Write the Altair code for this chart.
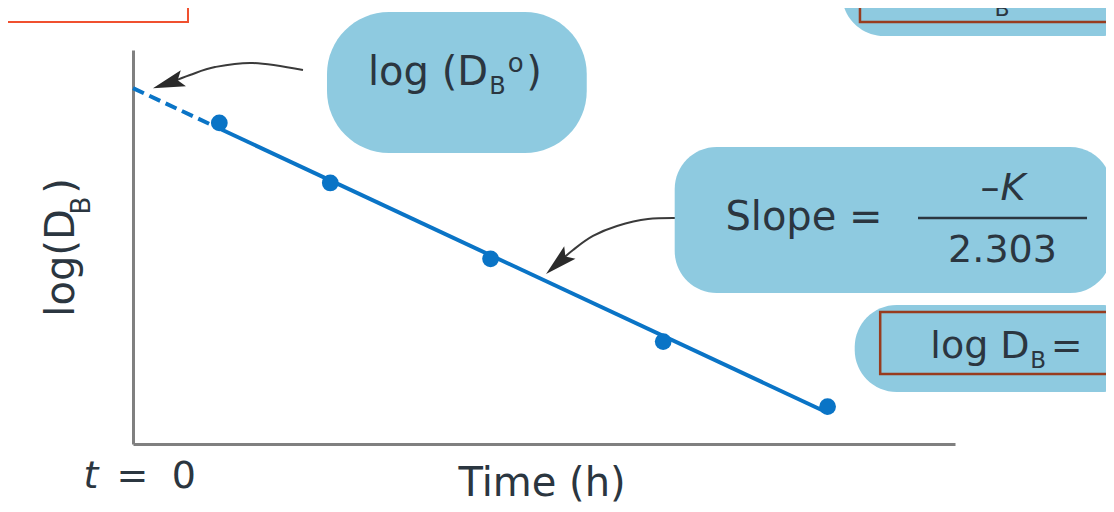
import altair as alt
import pandas as pd

# ---------------- data ----------------
time_h = [1.05, 2.40, 4.35, 6.45, 8.45]          # sampling times (h)
log_db = [3.26, 2.65, 1.88, 1.04, 0.38]          # log(D_B) measured

X_DOMAIN = [0, 10]
Y_DOMAIN = [0, 4]

BLUE = "#0a74c6"
BLOB = "#8ecae0"
INK = "#2b3640"
AXIS_GREY = "#808080"
BOX_BROWN = "#983c1f"
BOX_RED = "#f0502f"
FONT = "DejaVu Sans"

points = pd.DataFrame({"t": time_h, "logD": log_db})

xs = alt.Scale(domain=X_DOMAIN, nice=False, zero=False)
ys = alt.Scale(domain=Y_DOMAIN, nice=False, zero=False)
ax = alt.Axis(title=None, labels=False, ticks=False, grid=False,
              domain=True, domainColor=AXIS_GREY, domainWidth=3)


def X(f):
    return alt.X(f, type="quantitative", scale=xs, axis=ax)


def Y(f):
    return alt.Y(f, type="quantitative", scale=ys, axis=ax)


# ---------------- fitted line + points ----------------
fit_solid = alt.Chart(points).transform_regression(
    "t", "logD", extent=[time_h[0], time_h[-1]]
).mark_line(color=BLUE, strokeWidth=4).encode(x=X("t"), y=Y("logD"))

fit_dash = alt.Chart(points).transform_regression(
    "t", "logD", extent=[0, time_h[0]]
).mark_line(color=BLUE, strokeWidth=4, strokeDash=[12, 6]).encode(x=X("t"), y=Y("logD"))

dots = alt.Chart(points).mark_circle(size=280, color=BLUE, opacity=1).encode(
    x=X("t"), y=Y("logD"))

# ---------------- annotation layout (data units) ----------------
blob_big = pd.DataFrame([{"x": 2.36, "x2": 5.52, "y": 4.386, "y2": 2.954}])
blobs = pd.DataFrame([
    {"x": 6.59, "x2": 11.91, "y": 3.015, "y2": 1.533},
    {"x": 8.78, "x2": 12.3, "y": 1.411, "y2": 0.528},
    {"x": 8.625, "x2": 12.3, "y": 5.0, "y2": 4.142},
])
boxes_brown = pd.DataFrame([
    {"x": 9.09, "x2": 12.3, "y": 1.340, "y2": 0.711},
    {"x": 8.844, "x2": 12.3, "y": 5.2, "y2": 4.284},
])
boxes_red = pd.DataFrame([{"x": -1.8, "x2": 0.669, "y": 5.2, "y2": 4.284}])

arrow_curves = pd.DataFrame([
    {"g": 1, "i": 0, "x": 2.068, "y": 3.797},
    {"g": 1, "i": 1, "x": 1.460, "y": 3.868},
    {"g": 1, "i": 2, "x": 0.998, "y": 3.827},
    {"g": 1, "i": 3, "x": 0.693, "y": 3.746},
    {"g": 1, "i": 4, "x": 0.474, "y": 3.675},
    {"g": 2, "i": 0, "x": 6.679, "y": 2.294},
    {"g": 2, "i": 1, "x": 6.265, "y": 2.284},
    {"g": 2, "i": 2, "x": 5.888, "y": 2.213},
    {"g": 2, "i": 3, "x": 5.596, "y": 2.112},
    {"g": 2, "i": 4, "x": 5.353, "y": 1.970},
    {"g": 2, "i": 5, "x": 5.206, "y": 1.862},
])
arrow_heads = pd.DataFrame([
    {"x": 0.474, "y": 3.675, "a": 252},
    {"x": 5.206, "y": 1.862, "a": 228},
])
STEALTH = "M0,-1 L0.42,0.6 L0,0.3 L-0.42,0.6 Z"

frac_bar = pd.DataFrame([{"x": 9.55, "x2": 11.606, "y": 2.294}])

texts = pd.DataFrame([
    {"t": "log (D", "x": 3.589, "y": 3.645, "s": 40, "a": 0},
    {"t": "B", "x": 4.434, "y": 3.553, "s": 24, "a": 0},
    {"t": "o", "x": 4.655, "y": 3.777, "s": 26, "a": 0},
    {"t": ")", "x": 4.880, "y": 3.645, "s": 40, "a": 0},
    {"t": "Slope =", "x": 8.163, "y": 2.173, "s": 40, "a": 0},
    {"t": "\u2013", "x": 10.426, "y": 2.477, "s": 38, "a": 0},
    {"t": "2.303", "x": 10.578, "y": 1.848, "s": 38, "a": 0},
    {"t": "log D", "x": 10.304, "y": 0.873, "s": 38, "a": 0},
    {"t": "B", "x": 11.01, "y": 0.772, "s": 23, "a": 0},
    {"t": "=", "x": 11.36, "y": 0.873, "s": 38, "a": 0},
    {"t": "B", "x": 10.572, "y": 4.35, "s": 22, "a": 0},
    {"t": "Time (h)", "x": 4.976, "y": -0.528, "s": 40, "a": 0},
    {"t": "=", "x": -0.006, "y": -0.447, "s": 38, "a": 0},
    {"t": "0", "x": 0.62, "y": -0.447, "s": 38, "a": 0},
    {"t": "log(D", "x": -0.718, "y": 1.838, "s": 40, "a": 270},
    {"t": "B", "x": -0.523, "y": 2.421, "s": 26, "a": 270},
    {"t": ")", "x": -0.718, "y": 2.62, "s": 40, "a": 270},
])
texts_it = pd.DataFrame([
    {"t": "t", "x": -0.511, "y": -0.447, "s": 38, "a": 0},
    {"t": "K", "x": 10.706, "y": 2.477, "s": 38, "a": 0},
])

# ---------------- layers ----------------
curves = alt.Chart(arrow_curves).mark_line(
    color="#3a3a3a", strokeWidth=2, interpolate="cardinal"
).encode(x=X("x"), y=Y("y"), detail="g:N", order="i:Q")

heads = alt.Chart(arrow_heads).mark_point(
    shape=STEALTH, filled=True, size=1600, color="#2a2a2a", opacity=1, strokeWidth=0
).encode(x=X("x"), y=Y("y"), angle=alt.Angle("a:Q", scale=None))

blob1 = alt.Chart(blob_big).mark_rect(color=BLOB, cornerRadius=62).encode(
    x=X("x"), x2="x2", y=Y("y"), y2="y2")
blob_rest = alt.Chart(blobs).mark_rect(color=BLOB, cornerRadius=42).encode(
    x=X("x"), x2="x2", y=Y("y"), y2="y2")

box_b = alt.Chart(boxes_brown).mark_rect(
    fillOpacity=0, stroke=BOX_BROWN, strokeWidth=2.5).encode(
    x=X("x"), x2="x2", y=Y("y"), y2="y2")
box_r = alt.Chart(boxes_red).mark_rect(
    fillOpacity=0, stroke=BOX_RED, strokeWidth=2).encode(
    x=X("x"), x2="x2", y=Y("y"), y2="y2")

bar = alt.Chart(frac_bar).mark_rule(color=INK, strokeWidth=2.5).encode(
    x=X("x"), x2="x2", y=Y("y"))

txt = alt.Chart(texts).mark_text(
    align="center", baseline="alphabetic", font=FONT, color=INK
).encode(x=X("x"), y=Y("y"), text="t:N",
         size=alt.Size("s:Q", scale=None), angle=alt.Angle("a:Q", scale=None))

txt_it = alt.Chart(texts_it).mark_text(
    align="center", baseline="alphabetic", font=FONT, color=INK, fontStyle="italic"
).encode(x=X("x"), y=Y("y"), text="t:N",
         size=alt.Size("s:Q", scale=None), angle=alt.Angle("a:Q", scale=None))

chart = alt.layer(
    curves, heads, blob1, blob_rest, box_b, box_r, bar,
    fit_dash, fit_solid, dots, txt, txt_it
).properties(
    width=822, height=394,
    padding={"left": 125, "top": 42, "right": 151, "bottom": 60},
    autosize=alt.AutoSizeParams(type="none"),
    background="white",
).configure_view(stroke=None)

chart.save("out.html", embed_options={"renderer": "svg", "actions": False})
